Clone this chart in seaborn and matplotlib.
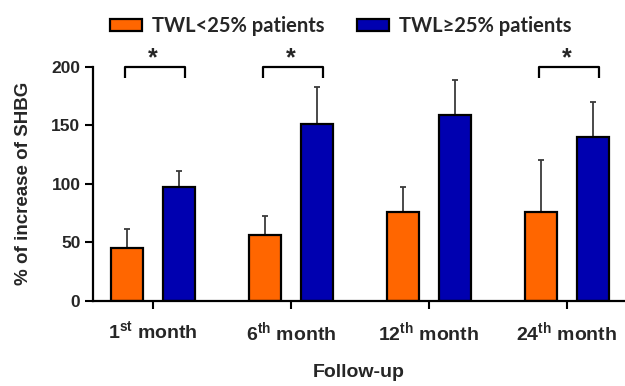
import numpy as np
import pandas as pd
import matplotlib
matplotlib.use('Agg')
import matplotlib.pyplot as plt
import seaborn as sns

# Data
months = [r'1$^{\mathbf{st}}$ month', r'6$^{\mathbf{th}}$ month',
          r'12$^{\mathbf{th}}$ month', r'24$^{\mathbf{th}}$ month']
groups = ['TWL<25% patients', 'TWL≥25% patients']
low_mean = [45, 56, 76, 76]
low_err = [16, 16, 21, 44]
high_mean = [97, 151, 159, 140]
high_err = [14, 32, 30, 30]
significant = [0, 1, 3]   # groups marked with *

colors = ['#FF6600', '#0000B0']

df = pd.DataFrame({
    'month': months * 2,
    'group': [groups[0]] * 4 + [groups[1]] * 4,
    'value': low_mean + high_mean,
})

sns.set_theme(style='ticks')
plt.rcParams['font.family'] = ['Liberation Sans', 'DejaVu Sans']
plt.rcParams['mathtext.fontset'] = 'custom'
plt.rcParams['mathtext.bf'] = 'Liberation Sans:bold'
plt.rcParams['mathtext.rm'] = 'Liberation Sans:bold'

fig = plt.figure(figsize=(6.25, 3.86), dpi=100)
ax = fig.add_axes([0.1488, 0.221, 0.8512, 0.6062])

sns.barplot(
    data=df, x='month', y='value', hue='group',
    order=months, hue_order=groups, palette=colors,
    width=0.76, gap=0.39, errorbar=None,
    edgecolor='black', linewidth=1.6, saturation=1, ax=ax
)

# error bars drawn behind the bars, so only the upper half shows
for cont, means, errs in zip(ax.containers, [low_mean, high_mean], [low_err, high_err]):
    xs = [b.get_x() + b.get_width() / 2 for b in cont]
    ax.errorbar(xs, means, yerr=errs, fmt='none',
                ecolor='#3a3a3a', elinewidth=1.3, capsize=2.5, capthick=1.3,
                zorder=0.5)

# significance brackets
for i in significant:
    b0 = ax.containers[0][i]
    b1 = ax.containers[1][i]
    x0 = b0.get_x() + b0.get_width() / 2 - 0.015
    x1 = b1.get_x() + b1.get_width() / 2 + 0.04
    ax.plot([x0, x0, x1, x1], [190, 200, 200, 190], color='black', lw=1.6,
            clip_on=False, solid_capstyle='butt')
    ax.text(i, 197, '*', ha='center', va='bottom', fontsize=18,
            fontweight='bold', clip_on=False)

ax.set_ylim(0, 200)
ax.set_xlim(-0.435, 3.42)
ax.set_yticks([0, 50, 100, 150, 200])
ax.tick_params(axis='both', length=6, width=1.5, color='black')
ax.tick_params(axis='y', labelsize=12.5, pad=3)
ax.tick_params(axis='x', labelsize=14, pad=8)
for lab in ax.get_yticklabels() + ax.get_xticklabels():
    lab.set_fontweight('bold')

for side in ['left', 'bottom']:
    ax.spines[side].set_linewidth(1.6)
    ax.spines[side].set_color('black')
sns.despine(ax=ax)

ax.set_ylabel('% of increase of SHBG', fontsize=13.5, fontweight='bold')
ax.yaxis.set_label_coords(-0.115, 0.5)
ax.set_xlabel('Follow-up', fontsize=14, fontweight='bold', labelpad=14)

sns.move_legend(
    ax, 'center', bbox_to_anchor=(0.466, 1.174), ncol=2, frameon=False,
    title=None, handlelength=1.6, handleheight=0.5, handletextpad=0.5,
    columnspacing=1.6,
    prop={'family': ['Lato', 'DejaVu Sans'], 'weight': 'bold', 'size': 14.5}
)
for h in ax.get_legend().legend_handles:
    h.set_edgecolor('black')
    h.set_linewidth(1.6)

fig.savefig('out.png', dpi=100)
